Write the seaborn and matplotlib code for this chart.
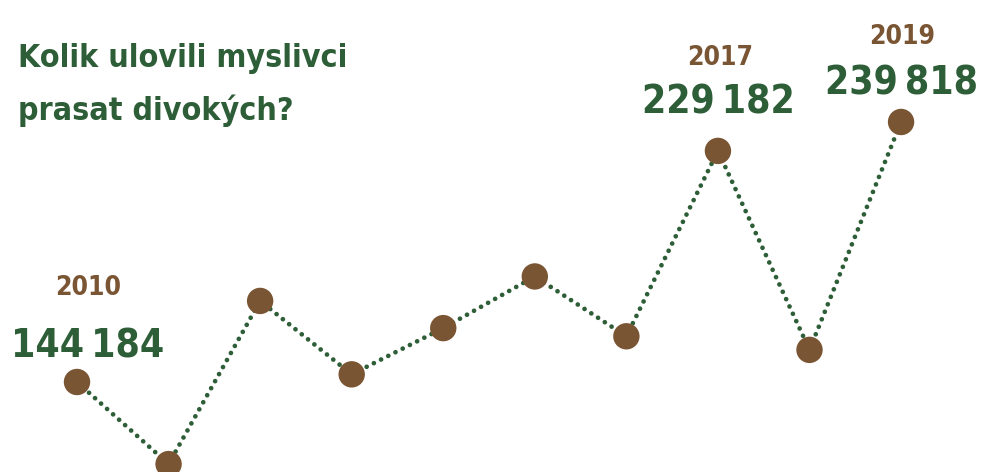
import matplotlib
matplotlib.use("Agg")
import matplotlib.pyplot as plt
import seaborn as sns
import pandas as pd

years = [2010, 2011, 2012, 2013, 2014, 2015, 2016, 2017, 2018, 2019]
hunted = [144184, 114000, 174000, 147000, 164000, 183000, 161000, 229182, 156000, 239818]
labeled_years = [2010, 2017, 2019]
title = "Kolik ulovili myslivci\nprasat divokých?"

GREEN = "#2d5e37"
BROWN = "#7a5533"

sns.set_theme(style="white")
plt.rcParams["font.family"] = ["DejaVu Sans"]

df = pd.DataFrame({"year": years, "hunted": hunted})

fig = plt.figure(figsize=(9.82, 4.72), dpi=100)
ax = fig.add_axes([0, 0, 1, 1])

sns.lineplot(data=df, x="year", y="hunted", ax=ax, color=GREEN, linewidth=3.4,
             linestyle=(0, (0.01, 1.7)), solid_capstyle="round", dash_capstyle="round", zorder=2)
sns.scatterplot(data=df, x="year", y="hunted", ax=ax, color=BROWN, s=19**2,
                edgecolor="none", zorder=3, legend=False)

ax.set_xlim(2009.159, 2019.884)
ax.set_ylim(111082, 284684)
ax.axis("off")

offsets = {2010: ((11, 25), (11, 87)), 2017: ((0, 37), (2, 86)), 2019: ((0, 27), (1, 78))}
for yr in labeled_years:
    val = hunted[years.index(yr)]
    (nx, ny), (yx, yy) = offsets[yr]
    ax.annotate(f"{val:,}".replace(",", "\u2009"), (yr, val), xytext=(nx, ny),
                textcoords="offset pixels", ha="center", va="baseline",
                fontsize=28, fontweight="bold", fontstretch="condensed",
                color=GREEN, annotation_clip=False)
    ax.annotate(str(yr), (yr, val), xytext=(yx, yy), textcoords="offset pixels",
                ha="center", va="baseline", fontsize=19, fontweight="bold",
                fontstretch="condensed", color=BROWN, annotation_clip=False)

fig.text(18 / 982, 1 - 43 / 472, title, ha="left", va="top", fontsize=23,
         fontweight="bold", fontstretch="condensed", color=GREEN, linespacing=1.8)

fig.savefig("out.png", dpi=100)
